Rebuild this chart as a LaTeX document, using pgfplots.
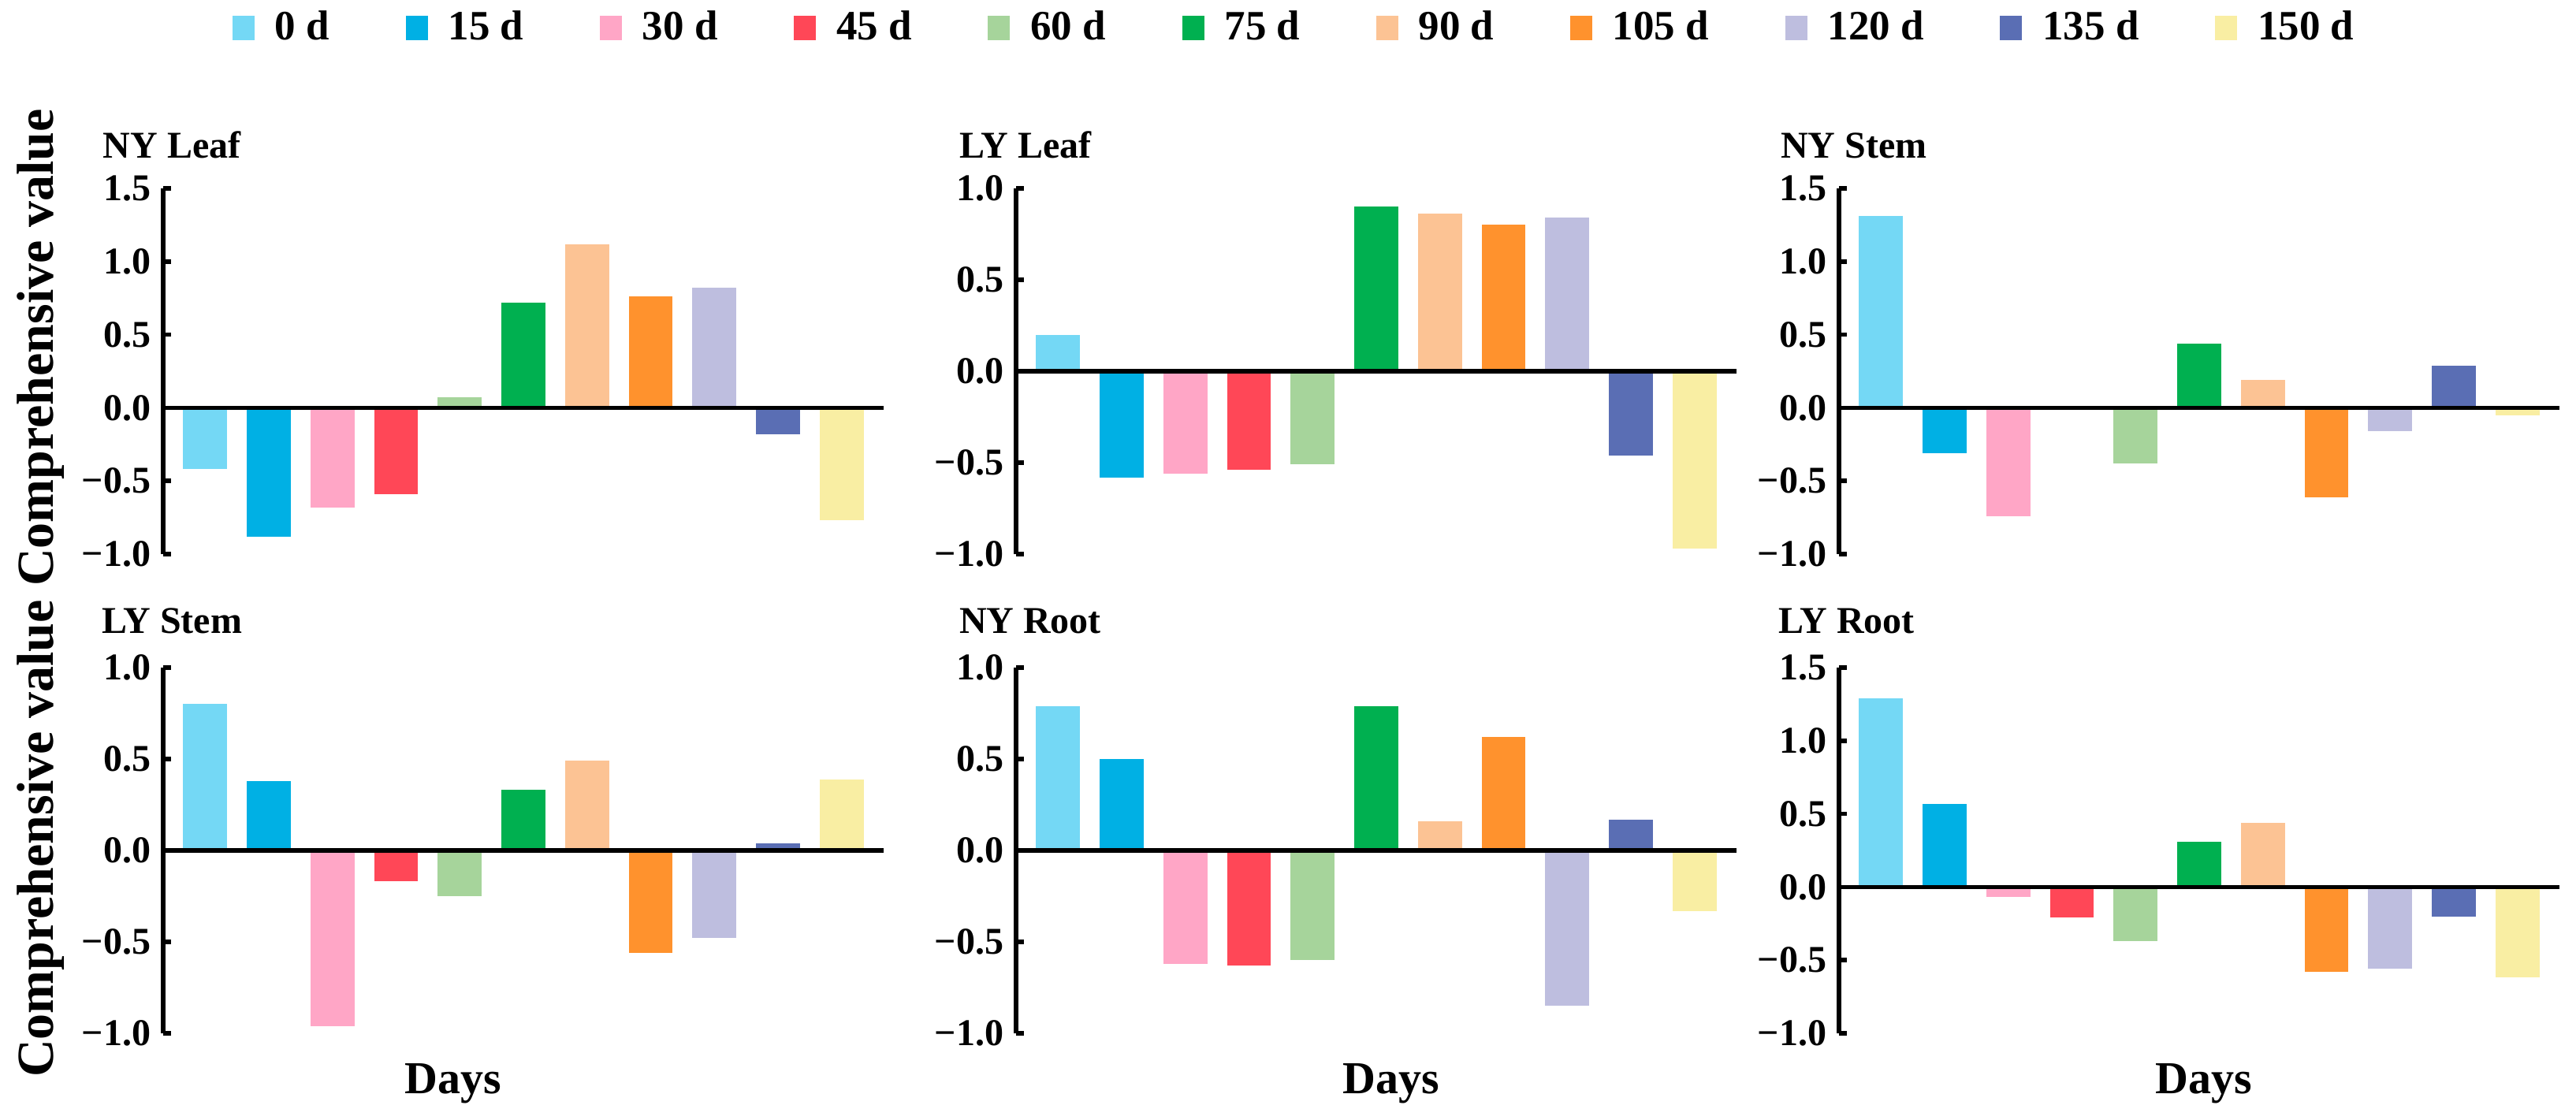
\documentclass[border=0pt]{standalone}
\usepackage{fontspec}
\setmainfont{Liberation Serif}
\usepackage{pgfplots}
\pgfplotsset{compat=1.18}

\definecolor{c0}{HTML}{74D8F5}
\definecolor{c1}{HTML}{00B0E4}
\definecolor{c2}{HTML}{FFA6C6}
\definecolor{c3}{HTML}{FF4757}
\definecolor{c4}{HTML}{A6D49B}
\definecolor{c5}{HTML}{00B050}
\definecolor{c6}{HTML}{FCC394}
\definecolor{c7}{HTML}{FF922D}
\definecolor{c8}{HTML}{BEBEDF}
\definecolor{c9}{HTML}{5A6EB4}
\definecolor{c10}{HTML}{F9EEA3}

\newcommand{\ticfont}{\bfseries\fontsize{9.6}{10}\selectfont}
\newcommand{\titfont}{\bfseries\fontsize{9.6}{11}\selectfont}
\newcommand{\legfont}{\bfseries\fontsize{10.6}{12}\selectfont}
\newcommand{\labfont}{\bfseries\fontsize{11.6}{13}\selectfont}
\newcommand{\ylabfont}{\bfseries\fontsize{13.2}{15}\selectfont}
\newcommand{\tl}[1]{\mbox{\ticfont #1}}

\newcommand{\onebar}[3]{\addplot[ybar, bar width=0.69, bar shift=0pt, draw=none, fill=#2,
  legend image code/.code={\fill[#2] (0pt,-3.1pt) rectangle (5.6pt,3.1pt);}] coordinates {(#1,#3)};}
\newcommand{\zeroline}{\addplot[black, line width=1.1pt, forget plot] coordinates {(-0.66,0) (10.66,0)};}

\pgfplotsset{
  panel/.style={scale only axis, width=182.8pt, height=92.8pt,
    xmin=-0.66, xmax=10.66, ymin=-1,
    axis x line=none, axis y line=left,
    y axis line style={-, line width=1.1pt, black},
    ytick style={line width=1.1pt, black},
    tick align=inside, major tick length=2pt,
    xtick=\empty, clip=false,
    yticklabel style={font=\ticfont, inner xsep=3pt}},
  big/.style={panel, ymax=1.5, ytick={-1,-0.5,0,0.5,1,1.5},
    yticklabels={\tl{−1.0},\tl{−0.5},\tl{0.0},\tl{0.5},\tl{1.0},\tl{1.5}}},
  small/.style={panel, ymax=1, ytick={-1,-0.5,0,0.5,1},
    yticklabels={\tl{−1.0},\tl{−0.5},\tl{0.0},\tl{0.5},\tl{1.0}}}
}

\begin{document}
\begin{tikzpicture}
\path[use as bounding box] (0,0) rectangle (653.6pt,284pt);

% NY Leaf
\begin{axis}[big, at={(41.4pt,143.4pt)}, anchor=south west,
  legend columns=11,
  legend entries={0 d,15 d,30 d,45 d,60 d,75 d,90 d,105 d,120 d,135 d,150 d},
  legend style={draw=none, fill=none, at={(1.574,1.4375)}, anchor=center, font=\legfont,
    /tikz/every odd column/.append style={column sep=3.2pt},
    /tikz/every even column/.append style={column sep=17.3pt}}]
\onebar{0}{c0}{-0.42}
\onebar{1}{c1}{-0.88}
\onebar{2}{c2}{-0.68}
\onebar{3}{c3}{-0.59}
\onebar{4}{c4}{0.07}
\onebar{5}{c5}{0.72}
\onebar{6}{c6}{1.12}
\onebar{7}{c7}{0.76}
\onebar{8}{c8}{0.82}
\onebar{9}{c9}{-0.18}
\onebar{10}{c10}{-0.77}
\zeroline
\end{axis}

% LY Leaf
\begin{axis}[small, at={(257.8pt,143.4pt)}, anchor=south west]
\onebar{0}{c0}{0.20}
\onebar{1}{c1}{-0.58}
\onebar{2}{c2}{-0.56}
\onebar{3}{c3}{-0.54}
\onebar{4}{c4}{-0.51}
\onebar{5}{c5}{0.90}
\onebar{6}{c6}{0.86}
\onebar{7}{c7}{0.80}
\onebar{8}{c8}{0.84}
\onebar{9}{c9}{-0.46}
\onebar{10}{c10}{-0.97}
\zeroline
\end{axis}

% NY Stem
\begin{axis}[big, at={(466.6pt,143.4pt)}, anchor=south west]
\onebar{0}{c0}{1.31}
\onebar{1}{c1}{-0.31}
\onebar{2}{c2}{-0.74}
\onebar{3}{c3}{0}
\onebar{4}{c4}{-0.38}
\onebar{5}{c5}{0.44}
\onebar{6}{c6}{0.19}
\onebar{7}{c7}{-0.61}
\onebar{8}{c8}{-0.16}
\onebar{9}{c9}{0.29}
\onebar{10}{c10}{-0.05}
\zeroline
\end{axis}

% LY Stem
\begin{axis}[small, at={(41.4pt,21.8pt)}, anchor=south west]
\onebar{0}{c0}{0.80}
\onebar{1}{c1}{0.38}
\onebar{2}{c2}{-0.96}
\onebar{3}{c3}{-0.17}
\onebar{4}{c4}{-0.25}
\onebar{5}{c5}{0.33}
\onebar{6}{c6}{0.49}
\onebar{7}{c7}{-0.56}
\onebar{8}{c8}{-0.48}
\onebar{9}{c9}{0.04}
\onebar{10}{c10}{0.39}
\zeroline
\end{axis}

% NY Root
\begin{axis}[small, at={(257.8pt,21.8pt)}, anchor=south west]
\onebar{0}{c0}{0.79}
\onebar{1}{c1}{0.50}
\onebar{2}{c2}{-0.62}
\onebar{3}{c3}{-0.63}
\onebar{4}{c4}{-0.60}
\onebar{5}{c5}{0.79}
\onebar{6}{c6}{0.16}
\onebar{7}{c7}{0.62}
\onebar{8}{c8}{-0.85}
\onebar{9}{c9}{0.17}
\onebar{10}{c10}{-0.33}
\zeroline
\end{axis}

% LY Root
\begin{axis}[big, at={(466.6pt,21.8pt)}, anchor=south west]
\onebar{0}{c0}{1.29}
\onebar{1}{c1}{0.57}
\onebar{2}{c2}{-0.07}
\onebar{3}{c3}{-0.21}
\onebar{4}{c4}{-0.37}
\onebar{5}{c5}{0.31}
\onebar{6}{c6}{0.44}
\onebar{7}{c7}{-0.58}
\onebar{8}{c8}{-0.56}
\onebar{9}{c9}{-0.20}
\onebar{10}{c10}{-0.62}
\zeroline
\end{axis}

% panel titles
\node[anchor=base west, font=\titfont, inner sep=0pt] at (26pt,243.8pt) {NY Leaf};
\node[anchor=base west, font=\titfont, inner sep=0pt] at (243.2pt,243.8pt) {LY Leaf};
\node[anchor=base west, font=\titfont, inner sep=0pt] at (451.6pt,243.8pt) {NY Stem};
\node[anchor=base west, font=\titfont, inner sep=0pt] at (25.6pt,123.2pt) {LY Stem};
\node[anchor=base west, font=\titfont, inner sep=0pt] at (243.2pt,123.2pt) {NY Root};
\node[anchor=base west, font=\titfont, inner sep=0pt] at (451pt,123.2pt) {LY Root};

% axis labels
\node[anchor=base, font=\labfont, inner sep=0pt] at (115pt,6.6pt) {Days};
\node[anchor=base, font=\labfont, inner sep=0pt] at (353pt,6.6pt) {Days};
\node[anchor=base, font=\labfont, inner sep=0pt] at (559.2pt,6.6pt) {Days};
\node[rotate=90, anchor=base, font=\ylabfont, inner sep=0pt] at (13.4pt,195.8pt) {Comprehensive value};
\node[rotate=90, anchor=base, font=\ylabfont, inner sep=0pt] at (13.4pt,71.2pt) {Comprehensive value};
\end{tikzpicture}
\end{document}
